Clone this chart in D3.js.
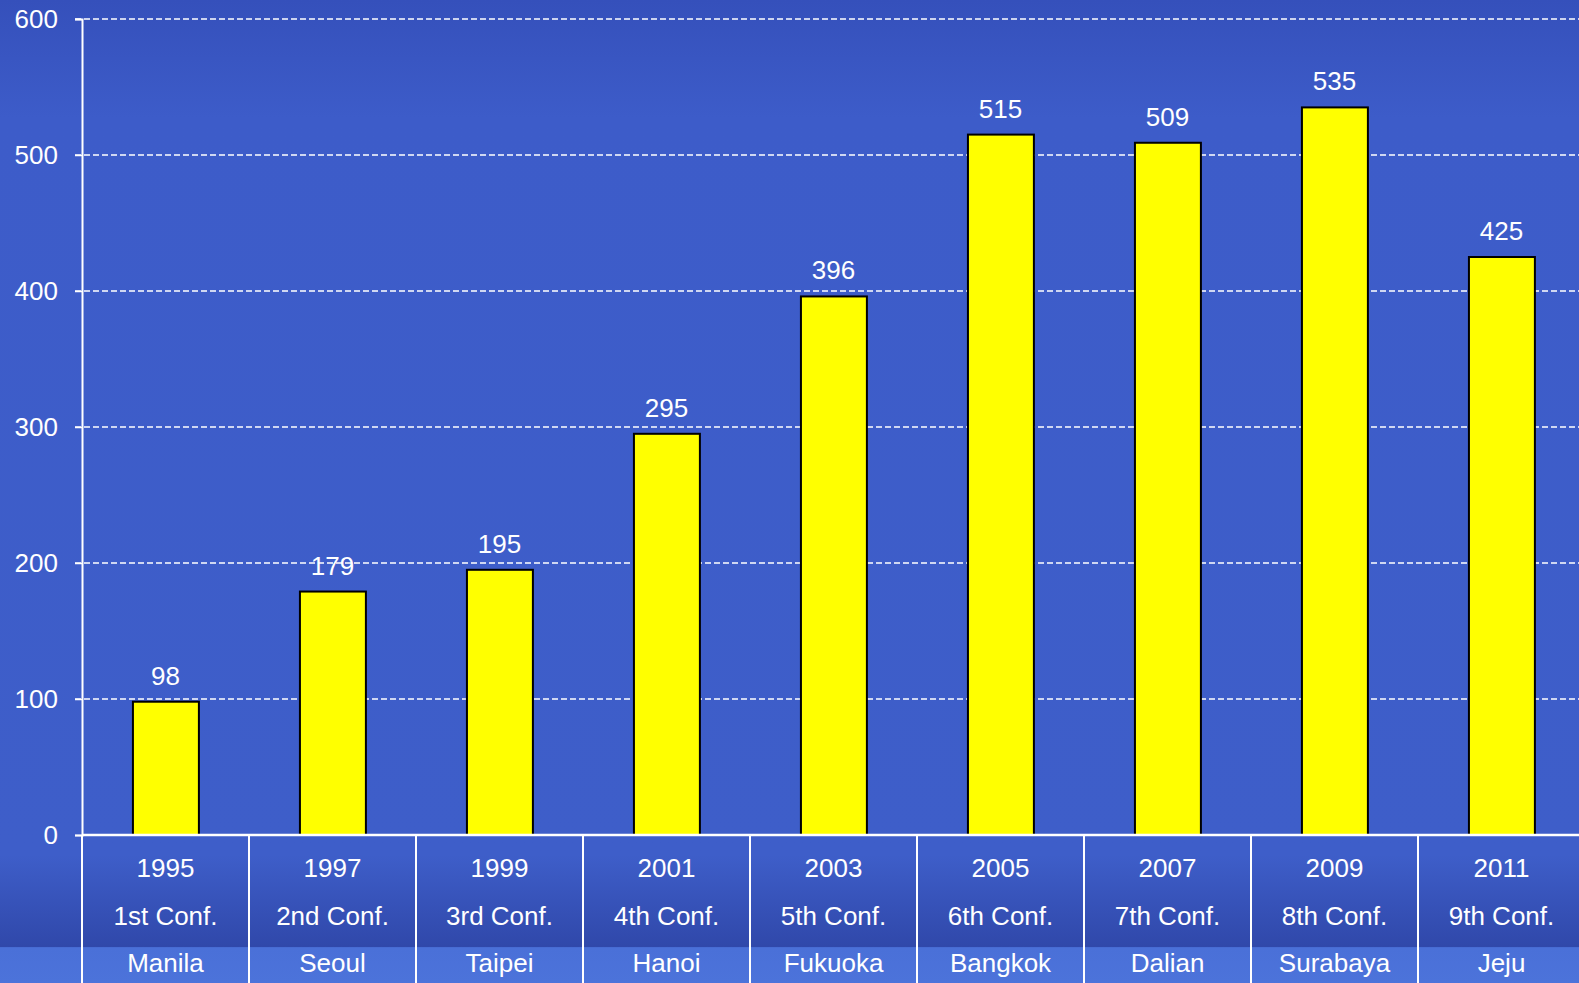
<!DOCTYPE html>
<html>
<head>
<meta charset="utf-8">
<script src="https://cdn.jsdelivr.net/npm/d3@7/dist/d3.min.js"></script>
<style>
    html, body { margin: 0; padding: 0; overflow: hidden; }
    svg { display: block; font-family: Arial, "Liberation Sans", sans-serif; }
</style>
</head>
<body>
<div id="container"></div>
<script>
const years = ["1995", "1997", "1999", "2001", "2003", "2005", "2007", "2009", "2011"]
const conferences = ["1st Conf.", "2nd Conf.", "3rd Conf.", "4th Conf.", "5th Conf.", "6th Conf.", "7th Conf.", "8th Conf.", "9th Conf."]
const cities = ["Manila", "Seoul", "Taipei", "Hanoi", "Fukuoka", "Bangkok", "Dalian", "Surabaya", "Jeju"]
const participants = [98, 179, 195, 295, 396, 515, 509, 535, 425]
const yTicks = [0, 100, 200, 300, 400, 500, 600]

const width = 1579
const height = 983
const margin = { top: 19, right: -6, bottom: 148, left: 82 }
const innerW = width - margin.left - margin.right
const innerH = height - margin.top - margin.bottom
const fontSize = 26

const svg = d3.select('#container')
    .append('svg')
    .attr('width', width)
    .attr('height', height)

// background
const defs = svg.append('defs')
const bg = defs.append('linearGradient')
    .attr('id', 'bg')
    .attr('x1', 0).attr('y1', 0).attr('x2', 0).attr('y2', 1)
bg.append('stop').attr('offset', '0').attr('stop-color', '#3550bb')
bg.append('stop').attr('offset', '0.12').attr('stop-color', '#3d5cc9')
bg.append('stop').attr('offset', '0.87').attr('stop-color', '#3e5ec9')
bg.append('stop').attr('offset', '0.963').attr('stop-color', '#3048aa')
bg.append('stop').attr('offset', '0.964').attr('stop-color', '#4a70d8')
bg.append('stop').attr('offset', '1').attr('stop-color', '#4c73da')

svg.append('rect')
    .attr('width', width)
    .attr('height', height)
    .attr('fill', 'url(#bg)')

const g = svg.append('g')
    .attr('transform', `translate(${margin.left},${margin.top})`)

const x = d3.scaleBand()
    .domain(years)
    .range([0, innerW])
    .paddingInner(0)
    .paddingOuter(0)

const y = d3.scaleLinear()
    .domain([0, 600])
    .range([innerH, 0])

// gridlines
g.append('g')
    .selectAll('line')
    .data(yTicks.filter(d => d > 0))
    .join('line')
    .attr('x1', -7)
    .attr('x2', innerW)
    .attr('y1', d => y(d))
    .attr('y2', d => y(d))
    .attr('stroke', '#ffffff')
    .attr('stroke-width', 1.4)
    .attr('stroke-dasharray', '6,3')

// y axis
const yAxis = g.append('g')
    .call(d3.axisLeft(y).tickValues(yTicks).tickSize(7).tickPadding(17))
yAxis.select('.domain').attr('stroke', '#ffffff').attr('stroke-width', 2)
yAxis.selectAll('.tick line').attr('stroke', '#ffffff').attr('stroke-width', 1.5)
yAxis.selectAll('.tick text')
    .attr('fill', '#ffffff')
    .attr('font-size', fontSize)
    .attr('font-family', 'Arial, "Liberation Sans", sans-serif')

// bars
const barW = x.bandwidth() * 0.395
g.append('g')
    .selectAll('rect')
    .data(participants)
    .join('rect')
    .attr('x', (d, i) => x(years[i]) + x.bandwidth() * 0.305)
    .attr('y', d => y(d))
    .attr('width', barW)
    .attr('height', d => innerH - y(d))
    .attr('fill', '#ffff00')
    .attr('stroke', '#000000')
    .attr('stroke-width', 2)

// value labels
g.append('g')
    .selectAll('text')
    .data(participants)
    .join('text')
    .attr('x', (d, i) => x(years[i]) + x.bandwidth() / 2)
    .attr('y', d => y(d) - 17)
    .attr('text-anchor', 'middle')
    .attr('fill', '#ffffff')
    .attr('font-size', fontSize)
    .text(d => d)

// x axis line + dividers
g.append('line')
    .attr('x1', 0)
    .attr('x2', innerW)
    .attr('y1', innerH)
    .attr('y2', innerH)
    .attr('stroke', '#ffffff')
    .attr('stroke-width', 2.5)

g.append('g')
    .selectAll('line')
    .data(years)
    .join('line')
    .attr('x1', d => x(d))
    .attr('x2', d => x(d))
    .attr('y1', innerH)
    .attr('y2', height)
    .attr('stroke', '#ffffff')
    .attr('stroke-width', 2)

// category labels
const rows = [years, conferences, cities]
rows.forEach((row, r) => {
    g.append('g')
        .selectAll('text')
        .data(row)
        .join('text')
        .attr('x', (d, i) => x(years[i]) + x.bandwidth() / 2)
        .attr('y', innerH + 42 + r * 47.5)
        .attr('text-anchor', 'middle')
        .attr('fill', '#ffffff')
        .attr('font-size', fontSize)
        .text(d => d)
})
</script>
</body>
</html>
